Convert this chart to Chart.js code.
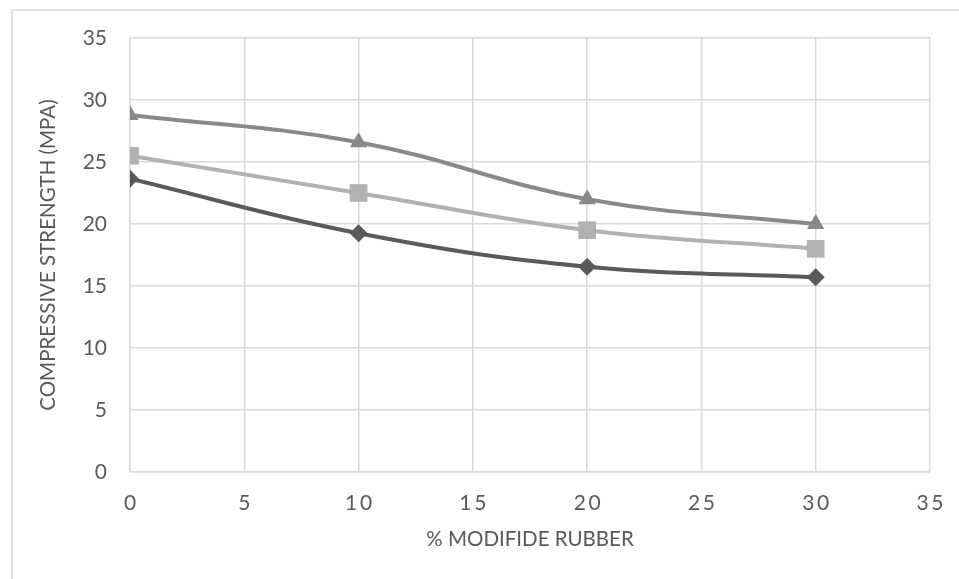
<!DOCTYPE html>
<html>
<head>
<meta charset="utf-8">
<script src="https://cdn.jsdelivr.net/npm/chart.js@4.4.1/dist/chart.umd.min.js"></script>
<style>
  html, body { margin: 0; padding: 0; background: #ffffff; }
  #wrap { position: relative; width: 959px; height: 579px; overflow: hidden; }
  #frame { position: absolute; left: 11px; top: 9px; width: 1000px; height: 1000px;
           border-left: 2px solid #e0e0e0; border-top: 2px solid #e0e0e0; box-sizing: border-box; }
  canvas { position: absolute; left: 0; top: 0; }
</style>
</head>
<body>
<div id="wrap">
  <div id="frame"></div>
  <canvas id="c" width="959" height="579"></canvas>
</div>
<script>
// ---- data ----
const rubberPercent = [0, 10, 20, 30];
const seriesTriangle = [28.8, 26.6, 22.0, 20.0];
const seriesSquare   = [25.5, 22.5, 19.5, 18.0];
const seriesDiamond  = [23.65, 19.25, 16.55, 15.7];
const xTicks = [0, 5, 10, 15, 20, 25, 30, 35];
const yTicks = [0, 5, 10, 15, 20, 25, 30, 35];
const xTitle = '% MODIFIDE RUBBER';
const yTitle = 'COMPRESSIVE STRENGTH (MPA)';

const toPoints = (vals) => rubberPercent.map((x, i) => ({ x: x, y: vals[i] }));

const FONT = 'Lato';
const TXT = '#595959';
const GRID = '#d9d9d9';

function mkSet(label, vals, color, style, radius) {
  return {
    label: label,
    data: toPoints(vals),
    showLine: true,
    borderColor: color,
    backgroundColor: color,
    borderWidth: 4,
    tension: 0.4,
    pointStyle: style,
    pointRadius: radius,
    pointHoverRadius: radius,
    pointBorderWidth: 0,
    pointBackgroundColor: color
  };
}

new Chart(document.getElementById('c'), {
  type: 'scatter',
  data: {
    datasets: [
      mkSet('Series 3', seriesDiamond, '#5a5a5a', 'rectRot', 9),
      mkSet('Series 2', seriesSquare, '#b1b1b1', 'rect', 12.5),
      mkSet('Series 1', seriesTriangle, '#898989', 'triangle', 10)
    ]
  },
  options: {
    responsive: false,
    animation: false,
    devicePixelRatio: 1,
    layout: { padding: { top: 38, right: 29, bottom: 0, left: 0 } },
    plugins: { legend: { display: false }, tooltip: { enabled: false } },
    scales: {
      x: {
        type: 'linear',
        min: 0, max: 35,
        afterBuildTicks: (s) => { s.ticks = xTicks.map(v => ({ value: v })); },
        afterFit: (s) => { s.height = 107; s.paddingRight = 0; s.paddingLeft = 0; },
        grid: { color: GRID, lineWidth: 1.5, drawTicks: false },
        border: { color: GRID, width: 1.5 },
        ticks: {
          padding: 19,
          color: TXT,
          font: { family: FONT, size: 21 },
          callback: (v) => String(v).split('').join('\u2009')
        },
        title: {
          display: true, text: xTitle, color: TXT,
          font: { family: FONT, size: 20.5 },
          padding: { top: 0, bottom: 27 }
        }
      },
      y: {
        type: 'linear',
        min: 0, max: 35,
        afterBuildTicks: (s) => { s.ticks = yTicks.map(v => ({ value: v })); },
        afterFit: (s) => { s.width = 130; },
        grid: { color: GRID, lineWidth: 1.5, drawTicks: false },
        border: { color: GRID, width: 1.5 },
        ticks: {
          padding: 23,
          color: TXT,
          font: { family: FONT, size: 21 }
        },
        title: {
          display: true, text: yTitle, color: TXT,
          font: { family: FONT, size: 20.5 },
          padding: { top: 36.5, bottom: 0 }
        }
      }
    }
  }
});
</script>
</body>
</html>
